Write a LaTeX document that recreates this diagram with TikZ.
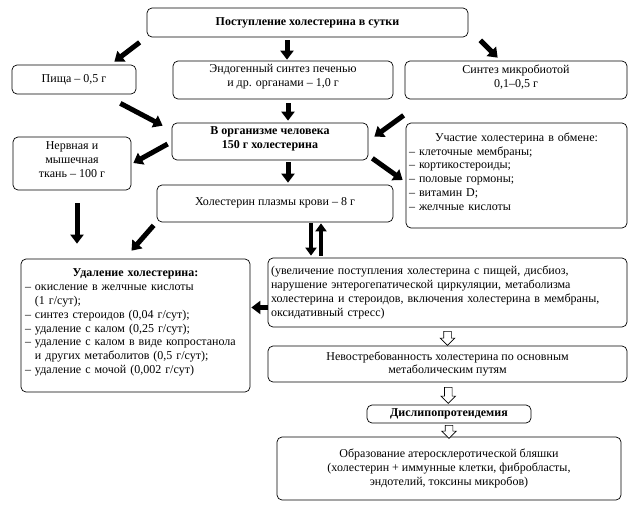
\documentclass[tikz,border=0pt]{standalone}
\usepackage{fontspec}
\setmainfont{Liberation Serif}
\usetikzlibrary{arrows.meta,calc,fit,shapes.arrows}
\begin{document}
\begin{tikzpicture}[x=1pt,y=-1pt,
  box/.style={draw, rounded corners=5pt, line width=0.7pt, inner sep=0pt},
  txt/.style={font=\fontsize{12}{13.8}\selectfont, inner sep=0pt, align=center},
  ltxt/.style={font=\fontsize{12}{13.8}\selectfont, inner sep=0pt, align=left, text width=#1},
  fat/.style={line width=5pt, -{Triangle[length=9pt,width=13pt]}},
  slim/.style={line width=4pt, -{Triangle[length=8pt,width=11pt]}},
  hollow/.style={draw, fill=white, line width=0.6pt, single arrow, inner xsep=0pt, inner ysep=3.5pt,
    single arrow head extend=3.5pt, minimum height=#1, rotate=-90}
]
\useasboundingbox (0,0) rectangle (634,508);

% boxes
\node[box, fit={(147,8) (468,37)}] (top) {};
\node[box, fit={(12,65) (136,94)}] (pishcha) {};
\node[box, fit={(173,61) (393,99)}] (endo) {};
\node[box, fit={(405,61) (627,99)}] (sintez) {};
\node[box, fit={(172,123) (368,160)}] (org) {};
\node[box, fit={(13,137) (131,190)}] (nerv) {};
\node[box, fit={(406,123) (627,228)}] (uch) {};
\node[box, fit={(157,185) (393,222)}] (plasma) {};
\node[box, fit={(21,259) (250,392)}] (udal) {};
\node[box, fit={(268,258) (627,327)}] (uvel) {};
\node[box, fit={(268,346) (627,382)}] (nevost) {};
\node[box, fit={(367,405) (531,423)}] (dislipo) {};
\node[box, fit={(277,437) (621,500)}] (obraz) {};

% texts
\node[txt] (topT) at (top.center) {\textbf{Поступление холестерина в сутки}};
\node[txt] (pishchaT) at (pishcha.center) {Пища – 0,5 г};
\node[txt] (endoT) at ($(endo.center)+(0,-3)$) {Эндогенный синтез печенью\\и др. органами – 1,0 г};
\node[txt] (sintezT) at ($(sintez.center)+(0,-3)$) {Синтез микробиотой\\0,1–0,5 г};
\node[txt] (orgT) at ($(org.center)+(0,-3)$) {\textbf{В организме человека}\\\textbf{150 г холестерина}};
\node[txt] (nervT) at ($(nerv.center)+(0,-4)$) {Нервная и\\мышечная\\ткань – 100 г};
\node[ltxt=215pt] (uchT) at ($(uch.center)+(0,-4)$) {\makebox[215pt][c]{Участие холестерина в обмене:}\\
– клеточные мембраны;\\
– кортикостероиды;\\
– половые гормоны;\\
– витамин D;\\
– желчные кислоты};
\node[txt] (plasmaT) at ($(plasma.center)+(0,-1)$) {Холестерин плазмы крови – 8 г};
\node[ltxt=221pt] (udalT) at ($(udal.center)+(0,-3)$) {\makebox[221pt][c]{\textbf{Удаление холестерина:}}\\
– окисление в желчные кислоты\\
\phantom{– }(1 г/сут);\\
– синтез стероидов (0,04 г/сут);\\
– удаление с калом (0,25 г/сут);\\
– удаление с калом в виде копростанола\\
\phantom{– }и других метаболитов (0,5 г/сут);\\
– удаление с мочой (0,002 г/сут)};
\node[ltxt=353pt] (uvelT) at (uvel.center) {(увеличение поступления холестерина с пищей, дисбиоз,\\
нарушение энтерогепатической циркуляции, метаболизма\\
холестерина и стероидов, включения холестерина в мембраны,\\
оксидативный стресс)};
\node[txt] (nevostT) at (nevost.center) {Невостребованность холестерина по основным\\метаболическим путям};
\node[txt] (dislipoT) at (dislipo.center) {\textbf{Дислипопротеидемия}};
\node[txt] (obrazT) at (obraz.center) {Образование атеросклеротической бляшки\\(холестерин + иммунные клетки, фибробласты,\\эндотелий, токсины микробов)};

% fat arrows
\draw[fat] ($(top.south west)+(-7,5)$) -- ($(pishcha.north east)+(-22,-3)$);
\draw[fat] ($(endo.north |- top.south)+(4,3)$) -- ($(endo.north)+(4,-1)$);
\draw[fat] ($(top.south east)+(12,3)$) -- ($(sintez.north west)+(93,-3)$);
\draw[fat] ($(pishcha.south east)+(-16,9)$) -- ($(org.north west)+(-9,3)$);
\draw[fat] ($(endo.south)+(5,4)$) -- ($(endo.south |- org.north)+(5,-2)$);
\draw[fat] ($(sintez.south west)+(-1,16)$) -- ($(org.north east)+(6,14)$);
\draw[fat] ($(org.west)+(-4,2.5)$) -- ($(nerv.east)+(2,-0.5)$);
\draw[fat] ($(org.south)+(18,2)$) -- ($(plasma.north)+(13,-2)$);
\draw[fat] ($(org.south east)+(4,-2)$) -- ($(uch.west)+(-3,4.5)$);
\draw[fat] ($(nerv.south)+(5,13)$) -- ($(nerv.south |- udal.north)+(5,-15)$);
\draw[fat] ($(plasma.south west)+(-3,3)$) -- ($(udal.north)+(-4,-8)$);
\draw[slim] ($(plasma.south)+(36,1)$) -- ($(plasma.south |- uvel.north)+(36,-2)$);
\draw[slim] ($(plasma.south |- uvel.north)+(46,-2)$) -- ($(plasma.south)+(46,1)$);
\draw[fat] ($(uvel.west)+(0,15)$) -- ($(udal.east |- uvel.west)+(1,15)$);

% hollow arrows
\node[hollow=14pt] (h1) at ($(uvel.south)!0.5!(nevost.north)$) {};
\node[hollow=16pt] (h2) at ($(nevost.south)!0.5!(dislipo.north)$) {};
\node[hollow=13pt] (h3) at ($(dislipo.south)!0.5!(obraz.north)$) {};
\end{tikzpicture}
\end{document}
